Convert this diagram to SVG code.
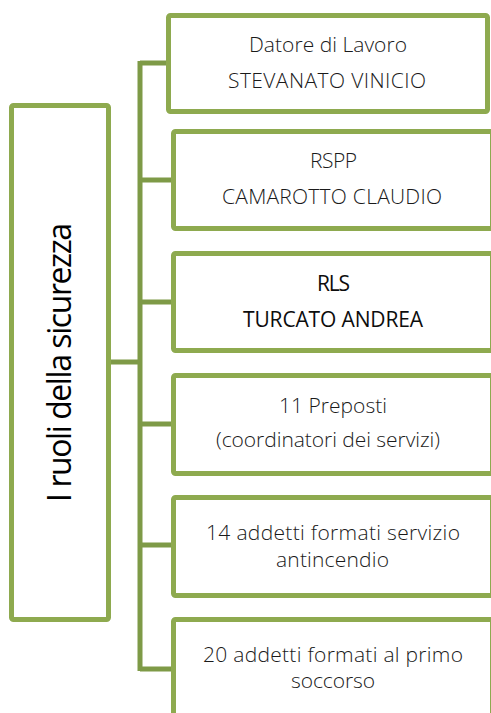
<svg xmlns="http://www.w3.org/2000/svg" width="491" height="713" viewBox="0 0 491 713">
<style>
.box{fill:#fff;stroke:#8EAA4F;stroke-width:5}
.conn{fill:none;stroke:#7E9A47;stroke-width:5}
.t{font-family:"Open Sans","Liberation Sans",sans-serif;font-size:21px;font-weight:300;fill:#1a1a1a;text-anchor:middle}
.tb{font-weight:400;fill:#0d0d0d}
.title{font-family:"Open Sans","Liberation Sans",sans-serif;font-size:32px;fill:#000;text-anchor:middle}
</style>
<rect width="491" height="713" fill="#fff"/>
<g id="connectors">
<path class="conn" d="M111 362H140M140 61V671M140 63H168M140 180H173M140 302H173M140 424H173M140 545H173M140 669H173"/>
</g>
<g id="root">
<rect class="box" x="11.5" y="105.5" width="97" height="514" rx="2"/>
<text class="title" transform="translate(71 362.5) rotate(-90)" textLength="279" lengthAdjust="spacing">I ruoli della sicurezza</text>
</g>
<g id="datore">
<rect class="box" x="168.5" y="15.5" width="319" height="96" rx="2"/>
<text class="t" x="328" y="52" textLength="158" lengthAdjust="spacing">Datore di Lavoro</text>
<text class="t" x="327" y="87.5" textLength="198" lengthAdjust="spacing">STEVANATO VINICIO</text>
</g>
<g id="rspp">
<rect class="box" x="173.5" y="131.5" width="319" height="97" rx="2"/>
<text class="t" x="333.5" y="168" textLength="47" lengthAdjust="spacing">RSPP</text>
<text class="t" x="332" y="204" textLength="220" lengthAdjust="spacing">CAMAROTTO CLAUDIO</text>
</g>
<g id="rls">
<rect class="box" x="173.5" y="253.5" width="319" height="97" rx="2"/>
<text class="t tb" x="333.5" y="291" textLength="33" lengthAdjust="spacing">RLS</text>
<text class="t tb" x="333" y="326.5" textLength="180" lengthAdjust="spacing">TURCATO ANDREA</text>
</g>
<g id="preposti">
<rect class="box" x="173.5" y="375.5" width="319" height="98" rx="2"/>
<text class="t" x="333" y="413" textLength="108" lengthAdjust="spacing">11 Preposti</text>
<text class="t" x="328" y="447" textLength="224" lengthAdjust="spacing">(coordinatori dei servizi)</text>
</g>
<g id="antincendio">
<rect class="box" x="173.5" y="497.5" width="319" height="98" rx="2"/>
<text class="t" x="333" y="540" textLength="254" lengthAdjust="spacing">14 addetti formati servizio</text>
<text class="t" x="332.5" y="566.5" textLength="113" lengthAdjust="spacing">antincendio</text>
</g>
<g id="primosoccorso">
<rect class="box" x="173.5" y="619.5" width="319" height="98" rx="2"/>
<text class="t" x="333" y="661.5" textLength="260" lengthAdjust="spacing">20 addetti formati al primo</text>
<text class="t" x="333" y="688" textLength="84" lengthAdjust="spacing">soccorso</text>
</g>
</svg>
